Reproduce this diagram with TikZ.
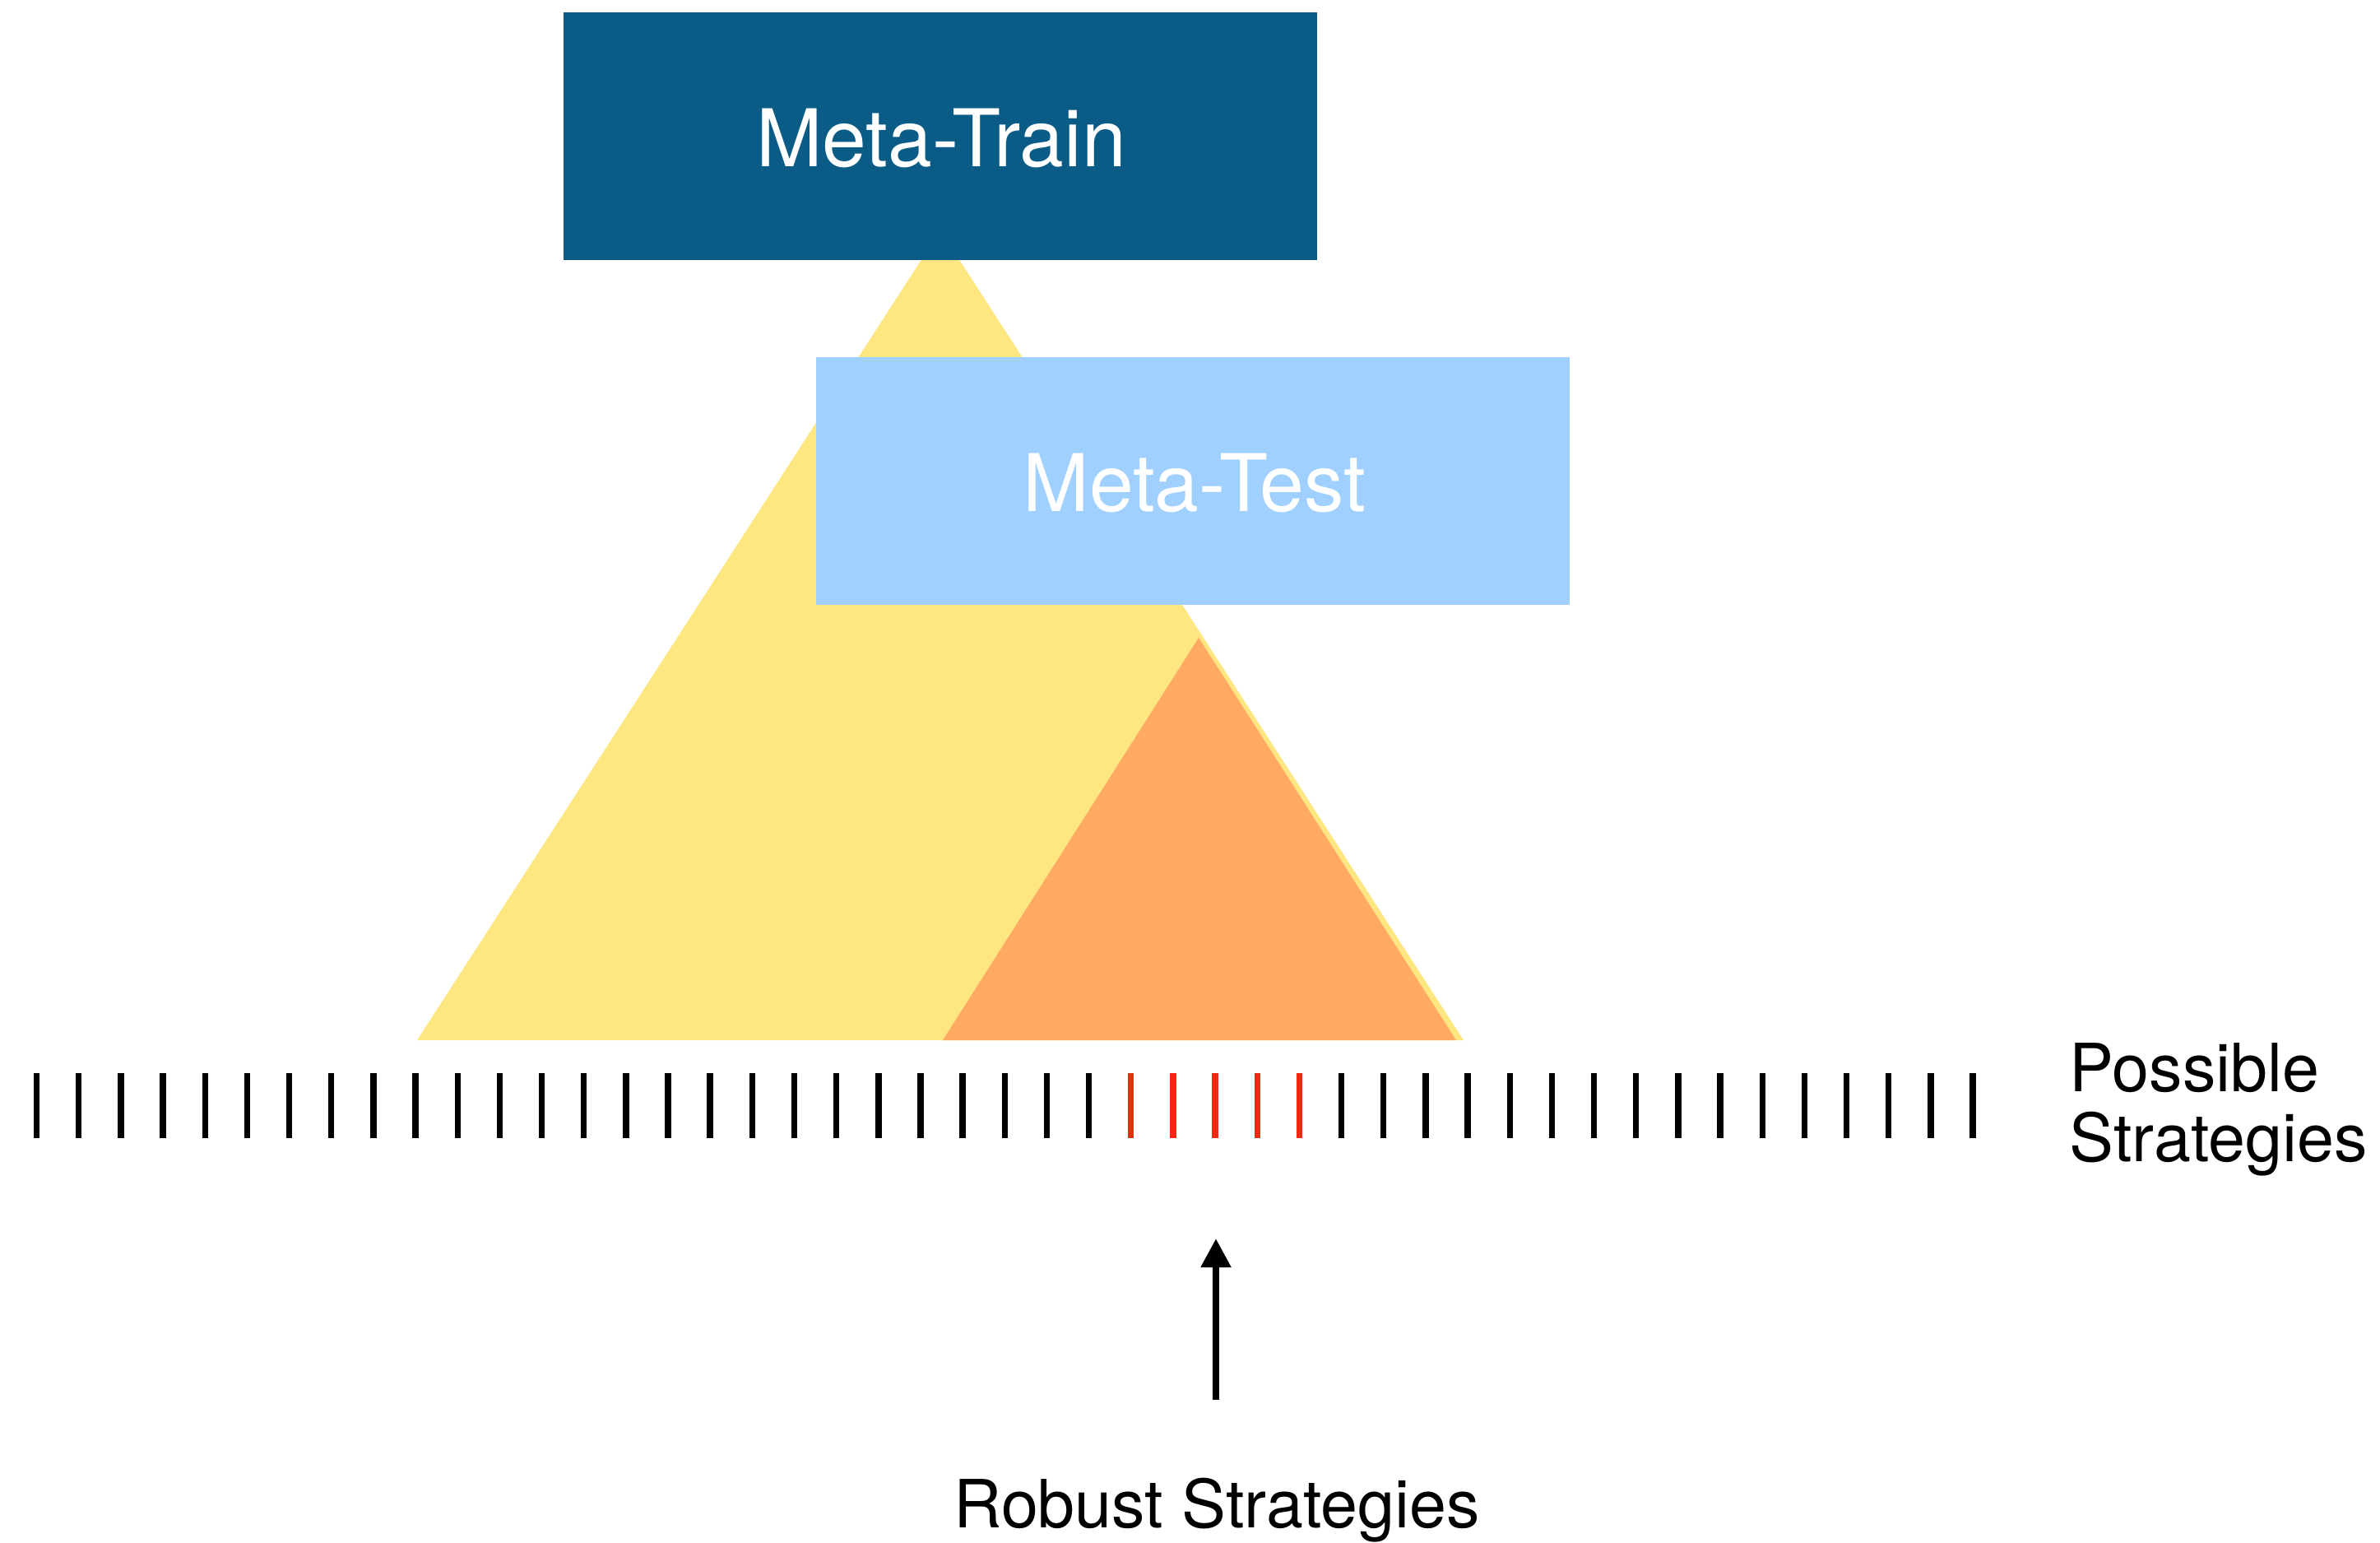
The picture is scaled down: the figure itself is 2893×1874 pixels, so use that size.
\documentclass[tikz,border=0pt]{standalone}
\usepackage{fontspec}
\setmainfont{TeX Gyre Heros}
\usetikzlibrary{arrows.meta}

\definecolor{traincol}{HTML}{0A5C86}
\definecolor{testcol}{HTML}{9FD0FF}
\definecolor{bigtri}{HTML}{FEE680}
\definecolor{smalltri}{HTML}{FFA963}
\definecolor{robustred}{HTML}{EE2A12}

\tikzset{
  phasebox/.style={rectangle, inner sep=0pt, minimum width=91.6mm, minimum height=30.1mm},
  boxlabel/.style={text=white, inner sep=0pt, anchor=base, font=\fontsize{27.5}{30}\selectfont},
  sidelabel/.style={inner sep=0pt, font=\fontsize{23}{24.2}\selectfont},
  tick/.style={line width=2.1pt},
  pointer/.style={line width=2.36pt, -{Triangle[width=10pt,length=10pt]}}
}

\begin{document}
\begin{tikzpicture}[x=0.1mm, y=-0.1mm]
  \useasboundingbox (0,0) rectangle (2893,1874);

  % strategy regions
  \fill[bigtri] (1143,280) -- (1779,1264) -- (507,1264) -- cycle;
  \fill[smalltri] (1457,775) -- (1770,1264) -- (1146,1264) -- cycle;

  % training and testing boxes
  \node[phasebox, fill=traincol] (train) at (1143,165) {};
  \node[phasebox, fill=testcol] (test) at (1450,584) {};
  \node[boxlabel] (trainlbl) at (1144,202) {Meta-Train};
  \node[boxlabel] (testlbl) at (1452,621) {Meta-Test};

  % row of candidate strategies
  \foreach \i in {0,...,46} {
    \pgfmathsetmacro{\xx}{44.6 + 51.16*\i}
    \ifnum\i>25 \ifnum\i<31
      \draw[tick, robustred] (\xx,1304) -- (\xx,1383);
    \else
      \draw[tick] (\xx,1304) -- (\xx,1383);
    \fi \else
      \draw[tick] (\xx,1304) -- (\xx,1383);
    \fi
  }

  \node[sidelabel, anchor=north west, align=left] (possible) at (2515,1267) {Possible\\Strategies};

  % pointer to the robust subset
  \coordinate (arrowtail) at (1478,1701);
  \coordinate (arrowtip) at (1478,1505);
  \draw[pointer] (arrowtail) -- (arrowtip);
  \node[sidelabel, anchor=base] (robust) at (1479,1856) {Robust Strategies};
\end{tikzpicture}
\end{document}
